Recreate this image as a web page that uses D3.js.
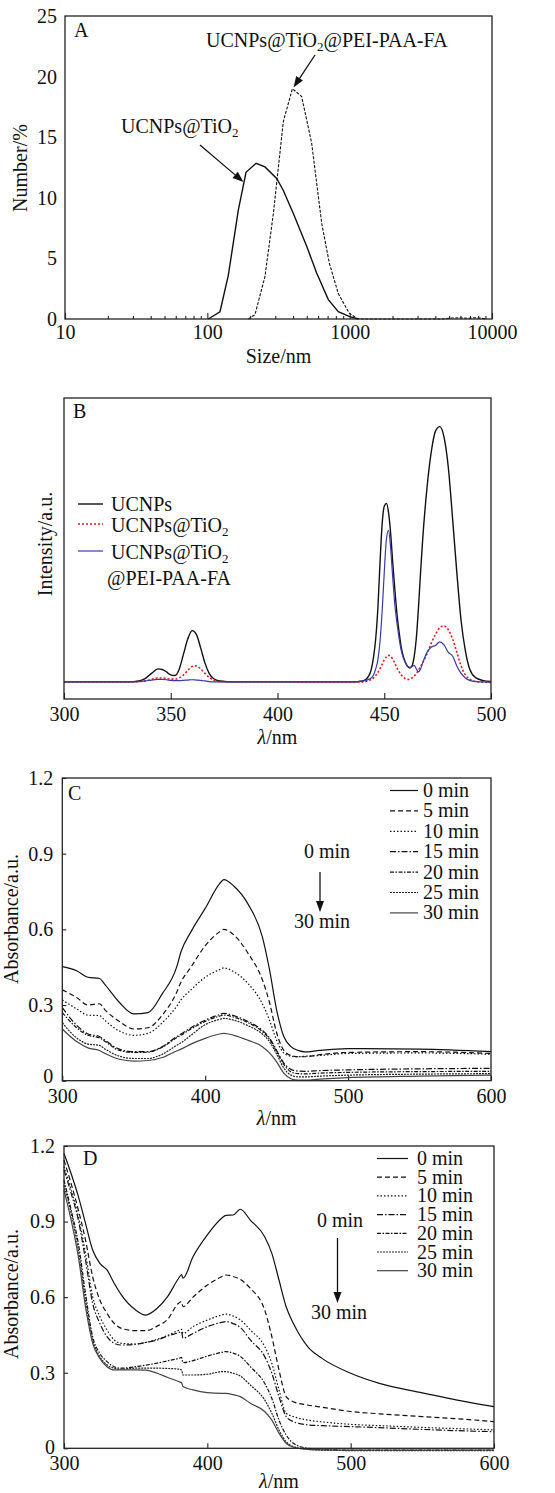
<!DOCTYPE html>
<html>
<head>
<meta charset="utf-8">
<script src="https://cdn.jsdelivr.net/npm/d3@7"></script>
<style>
body { margin: 0; background: #fff; }
svg text { font-family: "Liberation Serif", "Times New Roman", serif; fill: #111; }
</style>
</head>
<body>
<svg id="viz"></svg>
<script>
// ---- panel A: size distribution (DLS) ----
var aSizeTiO2 = [101.6, 122.7, 140.4, 165.2, 187, 220, 254, 307, 342, 402, 499, 586, 708, 832, 1000, 1148];
var aNumTiO2 = [0, 0.6, 3.6, 9.0, 12.1, 12.85, 12.55, 11.6, 10.6, 8.7, 6.0, 3.8, 1.6, 0.6, 0.2, 0];
var aSizeFA = [194, 216, 254, 291, 342, 396, 460, 541, 636, 720, 832, 990, 1120, 1250, 4500, 5200, 5960, 6800, 7390, 8200, 9180];
var aNumFA = [0, 0.35, 3.5, 8.7, 16.3, 19.0, 18.35, 14.5, 7.9, 4.6, 2.1, 0.5, 0.05, 0, 0, 0.08, 0.1, 0.05, 0.1, 0.08, 0];
var aXTicks = [10, 100, 1000, 10000];
var aYTicks = [0, 5, 10, 15, 20, 25];

// ---- panel B: emission spectra ----
var bLambda = [300, 330, 335, 338, 341, 344, 346, 348, 350, 352,
    354, 356, 358, 360, 362, 364, 366, 368, 370, 373,
    380, 435, 440, 443, 445, 446, 447, 448, 449, 450,
    451, 452, 453, 454, 455, 456, 457, 458, 459, 460,
    461, 462, 463, 464, 465, 466, 467, 468, 470, 472,
    474, 476, 478, 480, 482, 484, 486, 488, 490, 493,
    496, 500];
var bUCNPs = [.057, .057, .06, .068, .085, .1, .098, .09, .08, .078,
    .1, .15, .2, .227, .215, .17, .12, .085, .068, .06,
    .057, .057, .06, .08, .14, .2, .3, .45, .58, .64,
    .65, .62, .55, .45, .36, .28, .22, .17, .14, .12,
    .108, .103, .11, .14, .2, .3, .42, .53, .7, .82,
    .89, .905, .87, .77, .6, .42, .26, .16, .1, .07,
    .062, .058];
var bTiO2 = [.057, .057, .058, .06, .065, .07, .07, .068, .066, .066,
    .07, .08, .095, .108, .11, .1, .085, .072, .063, .058,
    .057, .056, .057, .062, .07, .078, .088, .1, .115, .13,
    .14, .145, .142, .132, .118, .103, .09, .08, .072, .067,
    .065, .066, .07, .076, .085, .095, .108, .12, .15, .185,
    .215, .237, .243, .23, .2, .155, .11, .08, .066, .058,
    .056, .055];
var bFA = [.057, .057, .058, .06, .063, .065, .065, .064, .062, .061,
    .061, .062, .063, .064, .063, .062, .06, .058, .057, .057,
    .057, .057, .06, .066, .08, .1, .13, .19, .29, .42,
    .53, .56, .5, .4, .31, .25, .2, .16, .135, .12,
    .108, .105, .108, .112, .1, .09, .1, .12, .155, .172,
    .178, .19, .18, .155, .143, .11, .085, .07, .062, .058,
    .057, .056];
var bXTicks = [300, 350, 400, 450, 500];

// ---- panel C: absorbance vs time ----
var cLambda = [300, 310, 318, 326, 330, 340, 350, 360, 370, 380, 383, 390, 400, 410,
    413, 420, 430, 440, 445, 450, 455, 460, 465, 470, 480, 500, 550, 600];
var cAbs0 = [.452, .436, .41, .405, .38, .31, .265, .27, .345, .45, .51, .59, .683, .78,
    .797, .772, .70, .57, .44, .28, .175, .135, .12, .114, .12, .127, .125, .115];
var cAbs5 = [.36, .33, .30, .305, .28, .235, .205, .21, .26, .35, .39, .45, .535, .59,
    .60, .578, .505, .40, .31, .19, .12, .10, .095, .095, .103, .112, .115, .108];
var cAbs10 = [.32, .285, .26, .258, .238, .197, .18, .188, .23, .295, .32, .36, .41, .44,
    .447, .432, .385, .305, .24, .16, .11, .097, .095, .097, .1, .108, .11, .105];
var cAbs15 = [.29, .22, .185, .175, .16, .125, .115, .115, .135, .175, .185, .21, .24, .262,
    .267, .258, .235, .2, .17, .12, .07, .045, .038, .037, .04, .043, .047, .049];
var cAbs20 = [.27, .21, .18, .17, .155, .12, .112, .113, .133, .17, .18, .205, .235, .256,
    .26, .252, .23, .195, .165, .115, .065, .035, .028, .027, .03, .033, .036, .037];
var cAbs25 = [.23, .17, .145, .14, .125, .097, .088, .088, .105, .14, .15, .18, .222, .243,
    .247, .24, .218, .185, .155, .105, .05, .022, .015, .015, .018, .022, .026, .028];
var cAbs30 = [.205, .155, .13, .12, .108, .085, .078, .08, .092, .118, .125, .145, .168, .185,
    .188, .18, .16, .135, .11, .075, .03, .008, .002, .002, .006, .012, .018, .022];

// ---- panel D: absorbance vs time ----
var dLambda = [300, 305, 310, 315, 320, 325, 330, 335, 340, 350, 357, 365, 372, 380, 382, 383,
    390, 400, 410, 413, 418, 423, 430, 440, 445, 450, 455, 460, 470, 480, 500, 520, 550, 580, 600];
var dAbs0 = [1.17, 1.09, 1.0, .893, .787, .734, .708, .655, .609, .549, .529, .556, .60, .675, .69, .675,
    .76, .847, .913, .925, .926, .949, .906, .84, .774, .668, .562, .496, .404, .357, .298, .258, .22, .185, .165];
var dAbs5 = [1.144, 1.05, .946, .827, .681, .589, .536, .496, .476, .467, .467, .485, .51, .576, .582, .562,
    .60, .648, .681, .688, .682, .67, .635, .549, .443, .311, .205, .185, .172, .163, .146, .137, .126, .115, .106];
var dAbs10 = [1.118, 1.025, .92, .774, .602, .523, .47, .43, .417, .414, .42, .433, .447, .468, .472, .456,
    .483, .509, .529, .533, .525, .51, .47, .404, .337, .232, .139, .126, .112, .105, .095, .09, .083, .077, .073];
var dAbs15 = [1.105, 1.012, .906, .748, .576, .496, .443, .417, .41, .413, .42, .43, .445, .459, .463, .437,
    .456, .483, .50, .503, .495, .48, .43, .364, .298, .205, .126, .106, .093, .09, .086, .082, .075, .069, .066];
var dAbs20 = [1.065, .946, .814, .615, .443, .377, .344, .324, .318, .324, .33, .338, .347, .357, .361, .34,
    .348, .366, .381, .384, .378, .365, .324, .258, .198, .112, .053, .02, 0, -.005, -.007, -.007, -.007, -.007, -.007];
var dAbs25 = [1.045, .933, .787, .589, .43, .364, .331, .318, .314, .318, .318, .318, .317, .314, .311, .291,
    .291, .294, .304, .304, .298, .287, .251, .192, .139, .073, .026, .007, -.004, -.007, -.009, -.009, -.009, -.009, -.009];
var dAbs30 = [1.025, .906, .761, .562, .417, .357, .324, .311, .311, .311, .31, .298, .282, .265, .26, .245,
    .232, .221, .218, .218, .213, .205, .179, .146, .112, .06, .02, .004, -.004, -.006, -.007, -.007, -.007, -.007, -.007];

var timeLabels = ["0 min", "5 min", "10 min", "15 min", "20 min", "25 min", "30 min"];
var absXTicks = [300, 400, 500, 600];
var absYTicks = [0, 0.3, 0.6, 0.9, 1.2];

var width = 555;
var height = 1493;
var font = '"Liberation Serif", "Times New Roman", serif';

var svg = d3.select("#viz")
    .attr("width", width)
    .attr("height", height);

// line styles for the 7 time curves
var timeDash = [null, "5,3", "1.5,2", "6,2,1.5,2", "4,1.5,1.5,1.5", "2,1", null];
var timeColor = ["#111", "#111", "#111", "#111", "#111", "#222", "#444"];

function frame(x, y) {
    var r = x.range(), s = y.range();
    svg.append("rect")
        .attr("x", r[0]).attr("y", s[1])
        .attr("width", r[1] - r[0]).attr("height", s[0] - s[1])
        .attr("fill", "none")
        .attr("stroke", "#222")
        .attr("stroke-width", 1.3);
}

function styleAxis(g) {
    g.select(".domain").remove();
    g.attr("font-family", font).attr("font-size", 20);
    g.selectAll(".tick line").attr("stroke", "#222").attr("stroke-width", 1.1);
    g.selectAll(".tick text").attr("fill", "#111");
}

function xTitle(x, yPos, italic, rest) {
    var t = svg.append("text")
        .attr("x", (x.range()[0] + x.range()[1]) / 2)
        .attr("y", yPos)
        .attr("text-anchor", "middle")
        .attr("font-size", 20);
    if (italic) t.append("tspan").attr("font-style", "italic").text(italic);
    t.append("tspan").text(rest);
}

function yTitle(xPos, yPos, label) {
    svg.append("text")
        .attr("transform", "translate(" + xPos + "," + yPos + ") rotate(-90)")
        .attr("text-anchor", "middle")
        .attr("font-size", 20)
        .text(label);
}

function label(x, y, parts, size) {
    var t = svg.append("text").attr("x", x).attr("y", y).attr("font-size", size || 20);
    parts.forEach(function (p) {
        if (p.sub) {
            t.append("tspan").attr("font-size", 13).attr("dy", 4).text(p.t);
        } else {
            t.append("tspan").attr("dy", p.after ? -4 : 0).text(p.t);
        }
    });
    return t;
}

function arrow(x1, y1, x2, y2) {
    var ang = Math.atan2(y2 - y1, x2 - x1);
    var len = 11, w = 4;
    var bx = x2 - len * Math.cos(ang), by = y2 - len * Math.sin(ang);
    svg.append("line")
        .attr("x1", x1).attr("y1", y1).attr("x2", bx).attr("y2", by)
        .attr("stroke", "#111").attr("stroke-width", 1.3);
    var px = -Math.sin(ang) * w, py = Math.cos(ang) * w;
    svg.append("path")
        .attr("d", "M" + x2 + "," + y2 + "L" + (bx + px) + "," + (by + py) + "L" + (bx - px) + "," + (by - py) + "Z")
        .attr("fill", "#111");
}

// ================= Panel A =================
var xA = d3.scaleLog().domain([10, 10000]).range([65, 492]);
var yA = d3.scaleLinear().domain([0, 25]).range([319, 16]);

var minorA = [];
[10, 100, 1000].forEach(function (dec) {
    for (var k = 2; k <= 9; k++) minorA.push(dec * k);
});

svg.append("g").attr("transform", "translate(0,319)")
    .call(d3.axisBottom(xA).tickValues(minorA).tickSize(-3).tickFormat(""))
    .call(styleAxis);
svg.append("g").attr("transform", "translate(0,319)")
    .call(d3.axisBottom(xA).tickValues(aXTicks).tickSize(-6).tickPadding(6).tickFormat(d3.format("d")))
    .call(styleAxis);
svg.append("g").attr("transform", "translate(65,0)")
    .call(d3.axisLeft(yA).tickValues(aYTicks).tickSize(0).tickPadding(8))
    .call(styleAxis);

var lineA = d3.line()
    .x(function (d) { return xA(d[0]); })
    .y(function (d) { return yA(d[1]); });

svg.append("path")
    .datum(d3.zip(aSizeTiO2, aNumTiO2))
    .attr("d", lineA)
    .attr("fill", "none").attr("stroke", "#111").attr("stroke-width", 1.4);
svg.append("path")
    .datum(d3.zip(aSizeFA, aNumFA))
    .attr("d", lineA)
    .attr("fill", "none").attr("stroke", "#111").attr("stroke-width", 1.1)
    .attr("stroke-dasharray", "3,1.5");

frame(xA, yA);
svg.append("text").attr("x", 74).attr("y", 37).attr("font-size", 20).text("A");
label(206, 47, [{ t: "UCNPs@TiO" }, { t: "2", sub: true }, { t: "@PEI-PAA-FA", after: true }]);
label(121, 133, [{ t: "UCNPs@TiO" }, { t: "2", sub: true }]);
arrow(315, 55, 293.5, 87.5);
arrow(200, 145, 243.5, 182);
xTitle(xA, 363, null, "Size/nm");
yTitle(27, 168, "Number/%");

// ================= Panel B =================
var xB = d3.scaleLinear().domain([300, 500]).range([64, 491]);
var yB = d3.scaleLinear().domain([0, 1]).range([699, 398]);

svg.append("g").attr("transform", "translate(0,699)")
    .call(d3.axisBottom(xB).tickValues(bXTicks).tickSize(-6).tickPadding(8).tickFormat(d3.format("d")))
    .call(styleAxis);

var lineB = d3.line()
    .x(function (d) { return xB(d[0]); })
    .y(function (d) { return yB(d[1]); })
    .curve(d3.curveMonotoneX);

var bSeries = [
    { name: "UCNPs", values: bUCNPs, color: "#111", dash: null, w: 1.4 },
    { name: "UCNPs@TiO2", values: bTiO2, color: "#e8161c", dash: "2,2", w: 1.6 },
    { name: "UCNPs@TiO2@PEI-PAA-FA", values: bFA, color: "#3a3aa8", dash: null, w: 1.2 }
];

svg.selectAll(".bline")
    .data(bSeries)
    .enter().append("path")
    .attr("class", "bline")
    .attr("d", function (s) { return lineB(d3.zip(bLambda, s.values)); })
    .attr("fill", "none")
    .attr("stroke", function (s) { return s.color; })
    .attr("stroke-width", function (s) { return s.w; })
    .attr("stroke-dasharray", function (s) { return s.dash; });

frame(xB, yB);
svg.append("text").attr("x", 73).attr("y", 418).attr("font-size", 20).text("B");

// legend B
var legRowsB = [504, 524, 551];
bSeries.forEach(function (s, i) {
    svg.append("line")
        .attr("x1", 78).attr("x2", 103)
        .attr("y1", legRowsB[i]).attr("y2", legRowsB[i])
        .attr("stroke", s.color).attr("stroke-width", s.w)
        .attr("stroke-dasharray", s.dash);
});
label(111, 511, [{ t: "UCNPs" }]);
label(111, 532, [{ t: "UCNPs@TiO" }, { t: "2", sub: true }]);
label(111, 559, [{ t: "UCNPs@TiO" }, { t: "2", sub: true }]);
label(107, 585, [{ t: "@PEI-PAA-FA" }]);

xTitle(xB, 744, "\u03bb", "/nm");
yTitle(52, 544, "Intensity/a.u.");

// ================= Panels C and D =================
function absPanel(opts) {
    var x = d3.scaleLinear().domain([300, 600]).range(opts.xr);
    var y = d3.scaleLinear().domain([0, 1.2]).range(opts.yr);

    svg.append("g").attr("transform", "translate(0," + opts.yr[0] + ")")
        .call(d3.axisBottom(x).tickValues(absXTicks).tickSize(-5).tickPadding(8).tickFormat(d3.format("d")))
        .call(styleAxis);
    var yAxisG = svg.append("g").attr("transform", "translate(" + opts.xr[0] + ",0)")
        .call(d3.axisLeft(y).tickValues(absYTicks).tickSize(-4).tickPadding(9)
            .tickFormat(function (d) { return d === 0 ? "0" : d.toFixed(1); }))
        .call(styleAxis);
    // the "0" label sits a little above the corner
    yAxisG.selectAll(".tick text")
        .filter(function (d) { return d === 0; })
        .attr("y", -opts.zeroLift);

    var line = d3.line()
        .x(function (d) { return x(d[0]); })
        .y(function (d) { return y(d[1]); })
        .curve(d3.curveMonotoneX);

    svg.append("g").selectAll("path")
        .data(opts.series)
        .enter().append("path")
        .attr("d", function (vals) { return line(d3.zip(opts.lambda, vals)); })
        .attr("fill", "none")
        .attr("stroke", function (v, i) { return timeColor[i]; })
        .attr("stroke-width", 1.2)
        .attr("stroke-dasharray", function (v, i) { return timeDash[i]; });

    frame(x, y);
    svg.append("text").attr("x", opts.tag[0]).attr("y", opts.tag[1]).attr("font-size", 20).text(opts.tagText);

    // legend
    timeLabels.forEach(function (t, i) {
        var by = opts.leg.y0 + i * opts.leg.dy;
        svg.append("line")
            .attr("x1", opts.leg.x0).attr("x2", opts.leg.x1)
            .attr("y1", by - 6.5).attr("y2", by - 6.5)
            .attr("stroke", timeColor[i]).attr("stroke-width", 1.2)
            .attr("stroke-dasharray", timeDash[i]);
        svg.append("text").attr("x", opts.leg.tx).attr("y", by).attr("font-size", 20).text(t);
    });

    // 0 min -> 30 min arrow
    var a = opts.ann;
    svg.append("text").attr("x", a.x0).attr("y", a.t0).attr("text-anchor", "middle").attr("font-size", 20).text("0 min");
    arrow(a.ax, a.ay0, a.ax, a.ay1);
    svg.append("text").attr("x", a.x1).attr("y", a.t1).attr("text-anchor", "middle").attr("font-size", 20).text("30 min");

    xTitle(x, opts.yr[0] + opts.titleGap, "\u03bb", "/nm");
    yTitle(opts.ytx, opts.yty, "Absorbance/a.u.");
}

absPanel({
    xr: [62.3, 491], yr: [1080.7, 778],
    lambda: cLambda,
    series: [cAbs0, cAbs5, cAbs10, cAbs15, cAbs20, cAbs25, cAbs30],
    tag: [68, 800], tagText: "C",
    leg: { x0: 390, x1: 418, tx: 423, y0: 797, dy: 20.4 },
    ann: { x0: 327, t0: 858, ax: 320, ay0: 872, ay1: 912, x1: 322, t1: 928 },
    ytx: 18, yty: 919, zeroLift: 5, titleGap: 44
});

absPanel({
    xr: [64, 494], yr: [1448.3, 1146],
    lambda: dLambda,
    series: [dAbs0, dAbs5, dAbs10, dAbs15, dAbs20, dAbs25, dAbs30],
    tag: [83, 1165], tagText: "D",
    leg: { x0: 377, x1: 408, tx: 417, y0: 1165, dy: 18.7 },
    ann: { x0: 340, t0: 1227, ax: 337.5, ay0: 1238, ay1: 1303, x1: 339, t1: 1319 },
    ytx: 18, yty: 1294, zeroLift: 1, titleGap: 40
});
</script>
</body>
</html>
